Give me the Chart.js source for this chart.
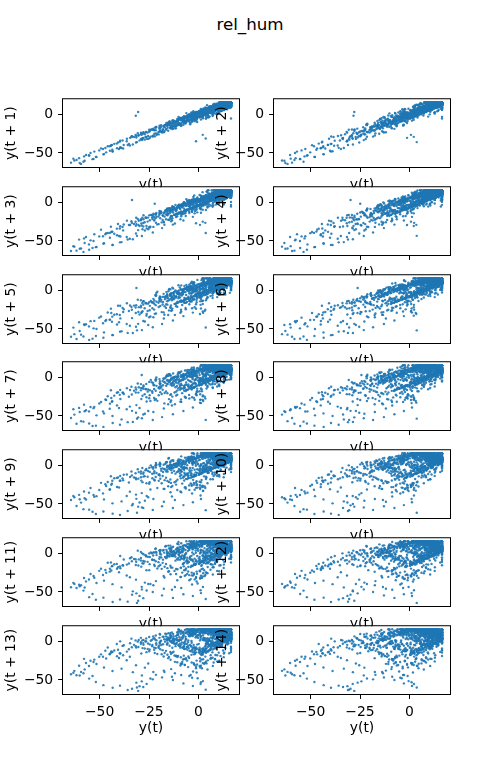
<!DOCTYPE html>
<html>
<head>
<meta charset="utf-8">
<script src="https://cdn.jsdelivr.net/npm/chart.js@4.4.1/dist/chart.umd.min.js"></script>
<style>
  body { margin: 0; background: #fff; }
  #fig { position: relative; width: 500px; height: 780px; overflow: hidden; }
  #fig canvas { position: absolute; }
  #title { position: absolute; left: 0; top: 14px; width: 500px; text-align: center;
           font: 16.7px "DejaVu Sans"; color: #000; }
</style>
</head>
<body>
<div id="fig"><div id="title"></div></div>
<script>
// series estimated from the lag plots (one value per time step)
const relHum = [
  6.3, 8.1, 7.4, 9.8, 11.2, 10.5, 12.9, 14.1, 13.3, 15.6, 16.5, 16.5, 15.8, 14.2, 14.9, 12.7, 11.1, 12.4, 10.6, 8.9, 9.7, 7.5, 6.2, 7.8, 5.4, 3.9, 4.6, 2.1, 0.8, 2.5, 1.2, -1.4, -0.3, -2.9, -4.1, -2.6, -5.3, -3.7, -1.9, 0.6, 2.8, 1.9, 4.5, 6.7, 5.9, 8.3, 10.1, 9.4, 11.8, 13.5,
  9.3, 13.8, 10.1, 15.2, 12.4, 16.5, 11.7, 14.3, 8.6, 12.9, 6.2, 10.5, 3.8, 8.9, 1.4, 5.7, -2.3, 3.1, 7.8, 2.6, 6.9, 11.3, 7.5, 13.6, 16.5, 12.2, 16.5, 14.7, 16.5, 10.8, 13.1, 7.4, 11.9, 5.3, 9.7, 14.2, 10.6, 16.5, 13.5, 16.5, 16.5, 12.8, 15.9, 9.1, 12.6, 6.8, 2.9, 7.3, 4.1, 8.5,
  12.6, 14.8, 16.2, 16.5, 16.5, 16.5, 15.1, 16.5, 16.5, 14.7, 13.2, 11.9, 12.8, 10.3, 9.1, 10.7, 8.4, 6.9, 7.7, 5.2, 6.6, 4.3, 5.8, 7.9, 9.6, 8.2, 10.9, 12.3, 11.5, 13.8, 15.4, 16.5, 16.5, 15.9, 16.5, 14.6, 12.2, 13.1, 10.8, 11.6, 9.3, 7.1, 8.6, 6.4, 4.7, 2.9, 3.8, 1.3, -0.7, 0.9,
  2.2, -1.9, -6.4, -9.1, -13.8, -17.2, -21.5, -24.3, -28.7, -26.2, -31.4, -29.8, -33.6, -27.9, -30.5, 3.7, -31.1, -35.8, -39.7, -43.4, -48.1, -51.9, -55.3, -53.6, -58.2, -61.7, -59.4, -64.5, -62.8, -60.1, -63.3, -57.6, -60.4, -56.9, -52.7, -48.3, -44.9, -41.2, -43.8, -39.5, -42.6, -38.1, -44.3, -40.7, -36.2, -31.5, -27.8, -23.4, -19.6, -16.3, -18.9, -13.7, -15.2, -11.4, -17.6, -14.1, -10.3, -12.8, -7.5, -3.9, -5.6, -0.8, 3.1, 1.4, 5.7,
  5.1, 7.6, 6.8, 9.4, 11.2, 10.3, 12.9, 14.6, 13.8, 16.1, 16.5, 16.5, 16.5, 14.9, 15.7, 13.3, 11.8, 12.7, 10.2, 8.6, 9.5, 7.2, 5.4, 6.3, 3.7, 5.1, 7.6, 9.3, 8.5, 10.9, 12.8, 11.9, 14.3, 16.2, 16.5, 16.5, 16.5, 16.5, 14.6, 13.1, 13.9, 11.5, 9.8, 10.6, 8.1, 6.3, 7.4, 4.8, 3.1, 4.4,
  12.7, 8.2, 14.6, 10.9, 16.5, 16.5, 13.2, 16.5, 11.4, 7.6, 10.3, 4.5, 0.7, 5.2, -1.8, 2.4, -4.6, 0.9, 4.8, -0.5, 3.7, 8.1, 5.5, 10.2, 14.4, 9.8, 13.1, 16.5, 16.5, 15.4, 11.6, 14.9, 8.7, 12.3, 16.5, 16.5, 13.9, 16.5, 10.4, 6.7, 9.9, 13.7, 16.5, 12.5, 15.6, 16.5, 11.2, 8.4, 12.8, 9.5,
  1.6, -2.3, -0.9, -4.7, -8.2, -6.5, -11.3, -14.9, -13.2, -18.6, -22.4, -20.1, -25.7, -23.3, -27.9, -24.6, -21.2, -26.4, -22.8, -18.1, -19.7, -14.3, -16.2, -10.5, -7.9, -9.4, -4.1, -1.6, -3.3, 1.9, 4.4,
  4.2, 6.6, 5.3, 8.1, 10.4, 9.2, 11.9, 13.4, 12.6, 14.9, 16.5, 16.5, 15.6, 16.5, 16.5, 16.5, 14.3, 12.8, 13.5, 11.2, 9.7, 10.9, 8.3, 9.1, 6.8, 7.9, 10.2, 12.1, 11.4, 13.8, 15.3, 14.7, 16.5, 16.5, 16.5, 15.4, 13.9, 14.8, 12.3, 10.1, 11.6, 9.5, 7.2, 8.4, 5.8, 3.6, 4.7, 2.4, 3.9, 6.1,
  5.9, 9.4, 3.3, 7.1, 0.2, 4.6, -3.5, 1.3, -6.2, -1.7, -8.4, -3.9, -10.7, -5.4, -0.8, -6.1, 2.3, -2.6, 4.9, 1.2, 7.8, 3.5, 9.6, 13.4, 8.3, 12.7, 16.5, 13.1, 16.5, 16.5, 14.2, 10.5, 15.1, 11.8, 16.5, 12.9, 9.2, 13.6, 7.7, 11.1, 15.3, 16.5, 16.5, 12.4, 14.8, 10.7, 6.5, 10.9, 14.5, 11.3,
  5.3, 7.7, 9.8, 8.9, 11.3, 10.1, 12.7, 14.4, 13.6, 15.9, 16.5, 16.5, 16.5, -4.8, -2.6, 1.3, 3.7, 2.5, 5.8, 8.2, 7.1, 9.6, 11.7, 10.8, 13.2, 14.9, 16.5, 16.5, 15.1, 13.4, 14.2, 11.8, 9.9, 10.7, 8.1, 6.4, 7.3, 4.9, 2.6, 3.8, 1.2, -1.5, 0.4, -2.8, -5.1, -3.6, -6.9, -8.4, -7.2, -10.1,
  -12.8, -11.1, -14.3, -12.6, -9.7, -10.8, -7.4, -5.1, -6.3, -3.2, -0.8, -1.9, 1.4, 3.8, 2.6, 5.2, 7.4, 6.3, 8.9, 10.6, 9.8, 12.3, 14.1, 13.2, 15.8, 16.5, 16.5, 16.5, 16.5, 16.5, 14.7, 15.6, 13.1, 11.4, 12.2, 9.8, 8.3, 9.4, 7.1, 8.6, 10.9, 12.8, 12.1, 14.6, 16.3, 16.5, 16.5, 15.2, 13.6, 14.3,
  15.8, 16.5, 13.3, 16.5, 16.5, 12.1, 8.6, 11.7, 5.4, 9.9, 2.8, 6.3, 10.6, 4.2, 8.8, 12.9, 7.1, 3.6, -0.9, 3.9, -2.7, 1.6, 6.4, 2.1, 5.8, 9.7, 14.1, 10.8, 16.5, 16.5, 16.5, 13.8, 16.5, 11.5, 14.6, 9.4, 12.2, 16.5, 14.3, 16.5, 10.2, 13.7, 7.9, 11.6, 5.1, 8.7, 12.4, 16.5, 13.1, 9.8,
  11.9, 10.2, 11.1, 8.7, 6.5, 7.4, 4.9, 2.8, 3.6, 1.1, -1.3, -0.2, -2.9, -4.6, -3.1, -6.2, -4.8, -2.1, -3.4, 0.2, 2.6, 1.5, 4.1, 6.3, 5.2, 7.8, 9.9, 8.6, 11.4, 13.1, 12.3, 14.8, 16.5, 16.5, 16.5, 15.3, 16.5, 16.5, 14.1, 12.6, 13.4, 10.9, 9.2, 10.1, 7.6, 5.9, 6.8, 4.2, 5.5, 7.9,
  10.1, 9.3, 11.7, 13.3, 12.5, 14.8, 16.5, 16.5, 16.5, 16.5, 15.1, 13.6, 14.4, 11.9, 10.4, 11.2, 8.8, 7.1, 8.3, 5.6, 3.9, 4.7, 2.1, 0.5, 1.7, -1.1, -3.2, -2.0, -4.9, -7.3, -5.8, -8.6, -10.9, -9.4, -12.3, -14.7, -13.1, -15.9, -13.8, -10.6, -11.9, -8.2, -5.7, -6.9, -3.4, -1.2, -2.3, 0.9, 3.2, 2.4,
  3.5, 0.8, 2.2, -26.3, -28.9, -24.7, -30.4, -27.2, -32.6, -29.1, -25.5, -27.8, -22.9, -19.4, -21.6, -16.8, -13.5, -15.2, -10.1, -6.8, -8.7, -3.9, -0.5, -2.1, 2.6,
  7.2, 9.6, 8.4, 10.8, 12.5, 11.3, 13.9, 15.7, 14.6, 16.5, 16.5, 16.5, 16.5, 15.2, 13.7, 14.4, 12.1, 10.6, 11.8, 9.4, 7.9, 8.7, 6.3, 4.8, 5.9, 3.4, 1.6, 2.8, 0.2, -2.1, -0.7, -3.8, -5.9, -4.3, -7.1, -8.8, -6.6, -9.9, -11.4, -9.2, -12.6, -10.3, -7.8, -8.9, -5.2, -2.7, -3.9, -0.4, 2.3, 1.1,
  1.3, -2.8, -7.6, -12.9, -18.4, -23.1, -28.6, -33.2, -38.9, -43.5, -47.8, -51.6, -55.4, -53.1, -57.9, -54.6, -50.2, -46.7, -49.3, -44.1, -39.8, -35.2, -38.4, -33.7, -29.1, -31.8, -26.5, -22.3, -24.9, -19.6, -21.8, -16.4, -12.7, -14.9, -9.8, -5.3, -7.1, -2.4, 1.9, 0.6, 4.8,
  6.4, 10.3, 2.9, 7.2, -1.4, 3.8, -5.1, -0.6, -9.3, -4.2, -12.5, -7.8, -3.1, -8.6, -14.2, -9.7, -4.4, -10.1, -2.8, 1.9, -3.6, 3.3, 7.4, 1.8, 6.1, 10.8, 5.7, 11.4, 15.6, 12.3, 16.5, 16.5, 14.9, 16.5, 11.2, 7.9, 12.6, 16.5, 13.2, 16.5, 16.5, 10.7, 14.1, 8.3, 4.7, 9.1, 13.5, 16.5, 12.8, 15.7,
  11.3, 14.6, 8.9, 12.2, 16.5, 13.4, 16.5, 16.5, 10.1, 6.5, 9.8, 3.1, 7.6, 0.4, 5.2, -3.3, 1.7, 6.9, 2.5, 8.3, 12.1, 7.7, 13.5, 16.5, 16.5, 11.9, 15.2, 9.6, 13.8, 16.5, 16.5, 14.4, 10.6, 15.9, 12.7, 8.1, 11.5, 5.6, 9.3, 14.7, 10.9, 16.5, 16.5, 16.5, 13.1, 9.5, 12.9, 7.2, 10.6, 6.1,
  4.1, 0.6, -3.4, -1.2, -6.9, -10.7, -8.8, -14.1, -17.6, -15.3, -20.8, -24.9, -22.1, -28.3, -31.7, -1.2, -34.6, -30.2, -26.8, -29.1, -23.6, -19.2, -21.4, -15.9, -12.3, -14.6, -8.2, -5.7, -7.3, -1.9, 2.4, 0.8, 5.3,
  2.6, 0.9, -1.8, -3.5, -2.2, -5.1, -7.4, -6.3, -8.9, -7.2, -10.6, -12.1, -11.3, -13.9, -15.7, -14.2, -17.1, -16.4, -19.3, -18.1, -21.6, -20.2, -22.4, -19.8, -17.9, -18.8, -15.6, -16.9, -13.4, -14.6, -11.8, -9.7, -10.9, -8.1, -6.5, -7.6, -4.8, -3.1, -4.2, -1.5, 0.3, -0.9, 1.8, 3.4, 2.7, 5.1, 4.2, 6.8, 8.5, 7.6, 9.9, 11.3,
  10.4, 12.7, 13.9, 13.1, 15.2, 16.5, 16.5, 16.5, 16.5, 15.4, 14.1, 15.7, 13.6, 12.3, 12.9, 10.5, 11.4, 9.2, 8.1, 9.5, 7.3, 5.6, 6.4, 4.1, 2.7, 3.5, 1.1, 2.3, -0.6, -2.4, -1.2, -3.9, -2.7, -0.4, 1.7, 0.5, 3.2, 5.4, 4.6, 7.1, 8.8, 7.9, 10.3, 12.1, 11.2, 13.6, 15.1, 14.5, 16.5, 16.5,
  16.5, 16.5, 15.1, 13.4, 14.2, 11.6, 10.1, 11.3, 8.7, 7.2, 8.1, 5.6, 6.9, 9.2, 11.1, 10.4, 12.8, 14.7, 13.9, 16.3, 16.5, 16.5, 16.5, 16.5, 14.9, 12.7, 13.6, 10.8, 9.1, 10.4, 7.8, 5.9, 6.7, 4.1, 2.3, 3.6, 6.2, 8.4, 7.7, 10.5, 7.3, 4.6, 1.8,
  -0.9, -4.6, -3.2, -8.7, -13.4, -11.9, -17.5, -22.8, -27.1, -25.4, -31.6, -36.3, -34.7, -40.2, -44.8, -47.1, -43.6, -45.9, -41.3, -37.8, -39.6, -33.9, -28.4, -30.7, -24.1, -19.5, -21.3, -15.8, -11.6, -13.2, -7.4, -2.9, -4.5, 0.7, 4.2,
  1.9, 0.3, 1.5, -1.7, -3.9, -2.8, -5.6, -7.8, -6.4, -9.3, -11.6, -10.2, -13.4, -15.8, -14.1, -17.3, -15.5, -12.4, -13.7, -10.2, -7.6, -8.9, -5.3, -2.8, -4.1, -0.7, 1.6, 0.4, 3.5, 5.8, 4.6, 7.3, 9.1, 8.2, 10.7, 12.4, 11.6, 14.1, 15.9, 15.2, 16.5, 16.5, 16.5, 14.8, 13.2, 14.1, 11.7, 12.9, 15.3, 16.5
];
const lags = [1, 2, 3, 4, 5, 6, 7, 8, 9, 10, 11, 12, 13, 14];
const xTickValues = [-50, -25, 0];
const yTickValues = [-50, 0];
const figTitle = 'rel_hum';

document.getElementById('title').textContent = figTitle;

// matplotlib-ish autoscale: 5% margin around the data
const dmin = Math.min(...relHum), dmax = Math.max(...relHum);
const margin = 0.05 * (dmax - dmin);
const lo = dmin - margin, hi = dmax + margin;

const fmt = v => v < 0 ? '\u2212' + Math.abs(v) : String(v);

Chart.defaults.font.family = 'DejaVu Sans';
Chart.defaults.font.size = 13.9;
Chart.defaults.color = '#000';

// white axes background + black frame like the mpl spines
const framePlugin = {
  id: 'frame',
  beforeDraw(chart) {
    const a = chart.chartArea, ctx = chart.ctx;
    ctx.save();
    ctx.fillStyle = '#fff';
    ctx.fillRect(a.left, a.top, a.width, a.height);
    ctx.restore();
  },
  afterDraw(chart) {
    const a = chart.chartArea, ctx = chart.ctx;
    ctx.save();
    ctx.strokeStyle = '#000';
    ctx.lineWidth = 1;
    ctx.strokeRect(a.left - 0.5, a.top - 0.5, a.width + 1, a.height + 1);
    ctx.restore();
  }
};

const fig = document.getElementById('fig');
const plotW = 176, plotH = 73, yAxisW = 63, canvasW = 245, canvasH = 126, padTop = 8;
const rowTops = [94, 182, 270, 357, 445, 533, 621];
const colLefts = [0, 211];

lags.forEach((k, i) => {
  const row = Math.floor(i / 2), col = i % 2;
  const isBottom = row === rowTops.length - 1;
  const xAxisH = isBottom ? 43 : 27;

  const canvas = document.createElement('canvas');
  canvas.width = canvasW;
  canvas.height = canvasH;
  canvas.style.left = colLefts[col] + 'px';
  canvas.style.top = (rowTops[row] - padTop) + 'px';
  fig.appendChild(canvas);

  const pts = relHum.slice(0, relHum.length - k).map((v, t) => ({ x: v, y: relHum[t + k] }));

  new Chart(canvas.getContext('2d'), {
    type: 'scatter',
    data: {
      datasets: [{
        data: pts,
        pointRadius: 1.2,
        pointBorderWidth: 0,
        backgroundColor: 'rgba(31, 119, 180, 0.9)',
        borderColor: 'rgba(31, 119, 180, 0.9)'
      }]
    },
    options: {
      responsive: false,
      animation: false,
      devicePixelRatio: 1,
      layout: { padding: { left: 0, top: padTop, right: canvasW - yAxisW - plotW, bottom: canvasH - padTop - plotH - xAxisH } },
      plugins: { legend: { display: false }, tooltip: { enabled: false } },
      scales: {
        x: {
          type: 'linear', min: lo, max: hi,
          afterBuildTicks: s => { s.ticks = xTickValues.map(v => ({ value: v })); },
          afterFit: s => { s.height = xAxisH; },
          ticks: { display: isBottom, padding: 4.9, callback: fmt },
          grid: { drawOnChartArea: false, tickLength: 4.9, tickColor: '#000' },
          border: { display: false },
          title: { display: true, text: 'y(t)', padding: { top: 0, bottom: 0 } }
        },
        y: {
          type: 'linear', min: lo, max: hi,
          afterBuildTicks: s => { s.ticks = yTickValues.map(v => ({ value: v })); },
          afterFit: s => { s.width = yAxisW; },
          ticks: { padding: 4.9, callback: fmt },
          grid: { drawOnChartArea: false, tickLength: 4.9, tickColor: '#000' },
          border: { display: false },
          title: { display: true, text: 'y(t + ' + k + ')', padding: { top: 2.7, bottom: 0 } }
        }
      }
    },
    plugins: [framePlugin]
  });
});
</script>
</body>
</html>
